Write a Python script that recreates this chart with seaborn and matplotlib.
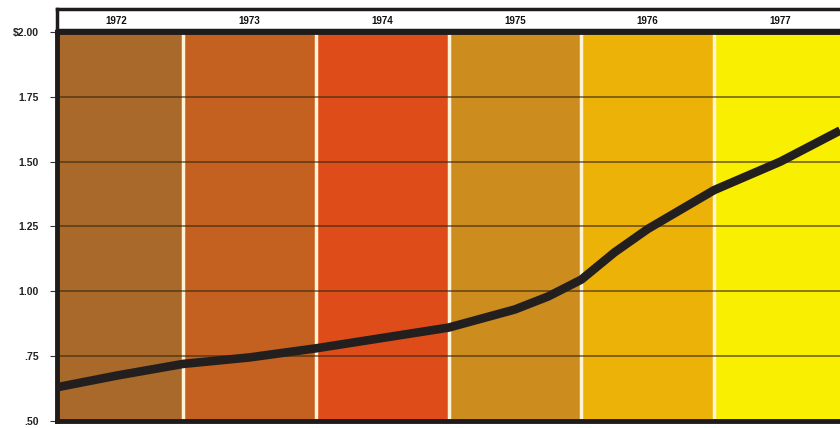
import numpy as np
import pandas as pd
import seaborn as sns
import matplotlib.pyplot as plt

# data
years = [1972, 1973, 1974, 1975, 1976, 1977]
band_colors = ['#a8692a', '#c46020', '#de4c1a', '#cc8c1e', '#ecb208', '#f8f000']
t = [1972.05, 1972.5, 1973.0, 1973.5, 1974.0, 1974.5, 1975.0,
     1975.5, 1975.75, 1976.0, 1976.25, 1976.5, 1977.0, 1977.5, 1977.95]
price = [0.63, 0.675, 0.72, 0.745, 0.78, 0.82, 0.86,
         0.93, 0.98, 1.045, 1.15, 1.24, 1.39, 1.50, 1.62]
yticks = [0.50, 0.75, 1.00, 1.25, 1.50, 1.75, 2.00]
ylabels = ['.50', '.75', '1.00', '1.25', '1.50', '1.75', '$2.00']

sns.set_style('white')
plt.rcParams['font.family'] = ['Liberation Sans', 'DejaVu Sans']

fig = plt.figure(figsize=(8.4, 4.28), dpi=100)
ax = fig.add_axes([0.068, 0.0164, 0.932, 0.909])
hdr = fig.add_axes([0.068, 0.93, 0.932, 0.048])

xmin, xmax = 1972.051, 1977.949
for yr, c in zip(years, band_colors):
    ax.axvspan(yr, yr + 1, color=c, lw=0, zorder=0)
for yr in years[1:]:
    ax.axvline(yr, color='#fff3d6', lw=2.5, zorder=1)
for v in yticks[1:-1]:
    ax.axhline(v, color='#3a2a10', lw=1.1, alpha=0.75, zorder=2)

df = pd.DataFrame({'t': t, 'price': price})
sns.lineplot(data=df, x='t', y='price', color='#231f1e', lw=6.2,
             ax=ax, zorder=3, solid_capstyle='butt')

ax.set_xlim(xmin, xmax)
ax.set_ylim(0.5, 2.0)
ax.set_xticks([])
ax.set_yticks(yticks)
ax.set_yticklabels(ylabels, fontsize=7.5, fontweight='bold', color='#222')
ax.tick_params(axis='y', direction='out', length=5, width=0.8,
               color='#333', pad=8, left=True)
ax.set_xlabel('')
ax.set_ylabel('')
for s in ['left', 'bottom', 'top']:
    ax.spines[s].set_linewidth(3.5)
    ax.spines[s].set_color('#1e1b1a')
ax.spines['right'].set_visible(False)

hdr.set_xlim(xmin, xmax)
hdr.set_ylim(0, 1)
hdr.set_xticks([])
hdr.set_yticks([])
hdr.set_facecolor('white')
for s in hdr.spines.values():
    s.set_linewidth(2.5)
    s.set_color('#1e1b1a')
hdr.spines['right'].set_visible(False)
for yr in years:
    hdr.text(yr + 0.5, 0.45, str(yr), ha='center', va='center',
             fontsize=7, fontweight='bold', color='#111')

fig.savefig('out.png', dpi=100)
